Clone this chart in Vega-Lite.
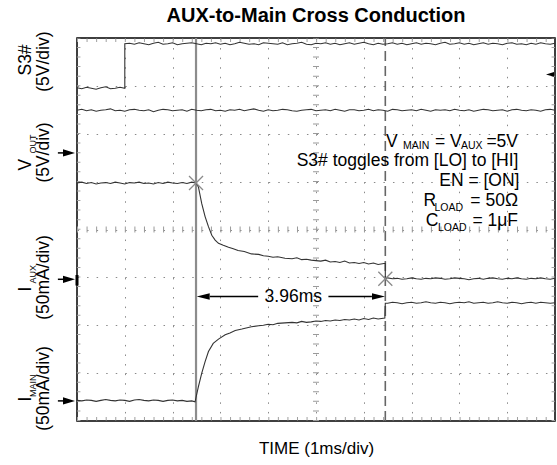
{
"$schema": "https://vega.github.io/schema/vega-lite/v6.json",
"width": 478,
"height": 383,
"autosize": {"type": "none"},
"padding": {"left": 77, "top": 38, "right": 2, "bottom": 44},
"background": "#ffffff",
"title": {"text": "AUX-to-Main Cross Conduction", "font": "Liberation Sans", "fontSize": 20, "fontWeight": "bold", "color": "#000", "anchor": "middle", "frame": "group", "offset": 6},
"config": {"view": {"stroke": "#000", "strokeWidth": 1.5}, "font": "Liberation Sans"},
"datasets": {
"tr": [
{"s":"S","x":0,"y":6.96},{"s":"S","x":0.1,"y":6.94},{"s":"S","x":0.2,"y":6.97},{"s":"S","x":0.3,"y":6.95},{"s":"S","x":0.4,"y":6.93},{"s":"S","x":0.5,"y":6.96},{"s":"S","x":0.6,"y":6.98},{"s":"S","x":0.7,"y":6.94},{"s":"S","x":0.8,"y":6.95},{"s":"S","x":0.9,"y":6.97},{"s":"S","x":1.0,"y":6.95},{"s":"S","x":1.0,"y":7.88},
{"s":"S","x":1.1,"y":7.89},{"s":"S","x":1.2,"y":7.87},{"s":"S","x":1.3,"y":7.9},{"s":"S","x":1.4,"y":7.88},{"s":"S","x":1.5,"y":7.86},{"s":"S","x":1.6,"y":7.89},{"s":"S","x":1.7,"y":7.91},{"s":"S","x":1.8,"y":7.87},{"s":"S","x":1.9,"y":7.88},{"s":"S","x":2.0,"y":7.9},
{"s":"S","x":2.1,"y":7.86},{"s":"S","x":2.2,"y":7.88},{"s":"S","x":2.3,"y":7.89},{"s":"S","x":2.4,"y":7.9},{"s":"S","x":2.5,"y":7.88},{"s":"S","x":2.6,"y":7.86},{"s":"S","x":2.7,"y":7.89},{"s":"S","x":2.8,"y":7.88},{"s":"S","x":2.9,"y":7.9},{"s":"S","x":3.0,"y":7.87},
{"s":"S","x":3.1,"y":7.89},{"s":"S","x":3.2,"y":7.86},{"s":"S","x":3.3,"y":7.88},{"s":"S","x":3.4,"y":7.91},{"s":"S","x":3.5,"y":7.89},{"s":"S","x":3.6,"y":7.87},{"s":"S","x":3.7,"y":7.88},{"s":"S","x":3.8,"y":7.86},{"s":"S","x":3.9,"y":7.9},{"s":"S","x":4.0,"y":7.89},
{"s":"S","x":4.1,"y":7.88},{"s":"S","x":4.2,"y":7.87},{"s":"S","x":4.3,"y":7.9},{"s":"S","x":4.4,"y":7.86},{"s":"S","x":4.5,"y":7.88},{"s":"S","x":4.6,"y":7.89},{"s":"S","x":4.7,"y":7.91},{"s":"S","x":4.8,"y":7.87},{"s":"S","x":4.9,"y":7.86},{"s":"S","x":5.0,"y":7.89},
{"s":"S","x":5.1,"y":7.88},{"s":"S","x":5.2,"y":7.9},{"s":"S","x":5.3,"y":7.87},{"s":"S","x":5.4,"y":7.89},{"s":"S","x":5.5,"y":7.86},{"s":"S","x":5.6,"y":7.88},{"s":"S","x":5.7,"y":7.9},{"s":"S","x":5.8,"y":7.87},{"s":"S","x":5.9,"y":7.89},{"s":"S","x":6.0,"y":7.91},
{"s":"S","x":6.1,"y":7.88},{"s":"S","x":6.2,"y":7.86},{"s":"S","x":6.3,"y":7.89},{"s":"S","x":6.4,"y":7.87},{"s":"S","x":6.5,"y":7.88},{"s":"S","x":6.6,"y":7.9},{"s":"S","x":6.7,"y":7.87},{"s":"S","x":6.8,"y":7.89},{"s":"S","x":6.9,"y":7.86},{"s":"S","x":7.0,"y":7.88},
{"s":"S","x":7.1,"y":7.9},{"s":"S","x":7.2,"y":7.87},{"s":"S","x":7.3,"y":7.89},{"s":"S","x":7.4,"y":7.88},{"s":"S","x":7.5,"y":7.86},{"s":"S","x":7.6,"y":7.89},{"s":"S","x":7.7,"y":7.91},{"s":"S","x":7.8,"y":7.87},{"s":"S","x":7.9,"y":7.88},{"s":"S","x":8.0,"y":7.9},
{"s":"S","x":8.1,"y":7.87},{"s":"S","x":8.2,"y":7.89},{"s":"S","x":8.3,"y":7.86},{"s":"S","x":8.4,"y":7.88},{"s":"S","x":8.5,"y":7.9},{"s":"S","x":8.6,"y":7.87},{"s":"S","x":8.7,"y":7.89},{"s":"S","x":8.8,"y":7.88},{"s":"S","x":8.9,"y":7.86},{"s":"S","x":9.0,"y":7.89},
{"s":"S","x":9.1,"y":7.9},{"s":"S","x":9.2,"y":7.87},{"s":"S","x":9.3,"y":7.88},{"s":"S","x":9.4,"y":7.86},{"s":"S","x":9.5,"y":7.89},{"s":"S","x":9.6,"y":7.87},{"s":"S","x":9.7,"y":7.9},{"s":"S","x":9.8,"y":7.88},{"s":"S","x":9.9,"y":7.87},{"s":"S","x":10,"y":7.89},
{"s":"F","x":0,"y":6.49},{"s":"F","x":0.1,"y":6.51},{"s":"F","x":0.2,"y":6.48},{"s":"F","x":0.3,"y":6.5},{"s":"F","x":0.4,"y":6.47},{"s":"F","x":0.5,"y":6.49},{"s":"F","x":0.6,"y":6.5},{"s":"F","x":0.7,"y":6.52},{"s":"F","x":0.8,"y":6.48},{"s":"F","x":0.9,"y":6.49},
{"s":"F","x":1.0,"y":6.47},{"s":"F","x":1.1,"y":6.5},{"s":"F","x":1.2,"y":6.51},{"s":"F","x":1.3,"y":6.49},{"s":"F","x":1.4,"y":6.48},{"s":"F","x":1.5,"y":6.5},{"s":"F","x":1.6,"y":6.46},{"s":"F","x":1.7,"y":6.49},{"s":"F","x":1.8,"y":6.51},{"s":"F","x":1.9,"y":6.5},
{"s":"F","x":2.0,"y":6.48},{"s":"F","x":2.1,"y":6.49},{"s":"F","x":2.2,"y":6.5},{"s":"F","x":2.3,"y":6.47},{"s":"F","x":2.4,"y":6.51},{"s":"F","x":2.5,"y":6.49},{"s":"F","x":2.6,"y":6.48},{"s":"F","x":2.7,"y":6.5},{"s":"F","x":2.8,"y":6.51},{"s":"F","x":2.9,"y":6.48},
{"s":"F","x":3.0,"y":6.49},{"s":"F","x":3.1,"y":6.47},{"s":"F","x":3.2,"y":6.5},{"s":"F","x":3.3,"y":6.49},{"s":"F","x":3.4,"y":6.51},{"s":"F","x":3.5,"y":6.48},{"s":"F","x":3.6,"y":6.5},{"s":"F","x":3.7,"y":6.52},{"s":"F","x":3.8,"y":6.49},{"s":"F","x":3.9,"y":6.47},
{"s":"F","x":4.0,"y":6.5},{"s":"F","x":4.1,"y":6.48},{"s":"F","x":4.2,"y":6.49},{"s":"F","x":4.3,"y":6.51},{"s":"F","x":4.4,"y":6.5},{"s":"F","x":4.5,"y":6.48},{"s":"F","x":4.6,"y":6.47},{"s":"F","x":4.7,"y":6.49},{"s":"F","x":4.8,"y":6.5},{"s":"F","x":4.9,"y":6.51},
{"s":"F","x":5.0,"y":6.48},{"s":"F","x":5.1,"y":6.49},{"s":"F","x":5.2,"y":6.5},{"s":"F","x":5.3,"y":6.48},{"s":"F","x":5.4,"y":6.51},{"s":"F","x":5.5,"y":6.49},{"s":"F","x":5.6,"y":6.47},{"s":"F","x":5.7,"y":6.5},{"s":"F","x":5.8,"y":6.5},{"s":"F","x":5.9,"y":6.48},
{"s":"F","x":6.0,"y":6.49},{"s":"F","x":6.1,"y":6.51},{"s":"F","x":6.2,"y":6.48},{"s":"F","x":6.3,"y":6.5},{"s":"F","x":6.4,"y":6.49},{"s":"F","x":6.5,"y":6.47},{"s":"F","x":6.6,"y":6.51},{"s":"F","x":6.7,"y":6.5},{"s":"F","x":6.8,"y":6.48},{"s":"F","x":6.9,"y":6.49},
{"s":"F","x":7.0,"y":6.5},{"s":"F","x":7.1,"y":6.48},{"s":"F","x":7.2,"y":6.51},{"s":"F","x":7.3,"y":6.49},{"s":"F","x":7.4,"y":6.47},{"s":"F","x":7.5,"y":6.5},{"s":"F","x":7.6,"y":6.49},{"s":"F","x":7.7,"y":6.5},{"s":"F","x":7.8,"y":6.48},{"s":"F","x":7.9,"y":6.51},
{"s":"F","x":8.0,"y":6.49},{"s":"F","x":8.1,"y":6.48},{"s":"F","x":8.2,"y":6.5},{"s":"F","x":8.3,"y":6.47},{"s":"F","x":8.4,"y":6.49},{"s":"F","x":8.5,"y":6.51},{"s":"F","x":8.6,"y":6.5},{"s":"F","x":8.7,"y":6.48},{"s":"F","x":8.8,"y":6.49},{"s":"F","x":8.9,"y":6.5},
{"s":"F","x":9.0,"y":6.47},{"s":"F","x":9.1,"y":6.5},{"s":"F","x":9.2,"y":6.51},{"s":"F","x":9.3,"y":6.49},{"s":"F","x":9.4,"y":6.48},{"s":"F","x":9.5,"y":6.5},{"s":"F","x":9.6,"y":6.49},{"s":"F","x":9.7,"y":6.47},{"s":"F","x":9.8,"y":6.5},{"s":"F","x":9.9,"y":6.51},{"s":"F","x":10,"y":6.49},
{"s":"A","x":0,"y":4.97},{"s":"A","x":0.1,"y":4.99},{"s":"A","x":0.2,"y":4.96},{"s":"A","x":0.3,"y":4.98},{"s":"A","x":0.4,"y":4.95},{"s":"A","x":0.5,"y":4.97},{"s":"A","x":0.6,"y":4.98},{"s":"A","x":0.7,"y":4.96},{"s":"A","x":0.8,"y":4.99},{"s":"A","x":0.9,"y":4.97},
{"s":"A","x":1.0,"y":4.95},{"s":"A","x":1.1,"y":4.98},{"s":"A","x":1.2,"y":4.97},{"s":"A","x":1.3,"y":4.99},{"s":"A","x":1.4,"y":4.96},{"s":"A","x":1.5,"y":4.97},{"s":"A","x":1.6,"y":4.95},{"s":"A","x":1.7,"y":4.98},{"s":"A","x":1.8,"y":4.96},{"s":"A","x":1.9,"y":4.99},
{"s":"A","x":2.0,"y":4.97},{"s":"A","x":2.1,"y":4.96},{"s":"A","x":2.2,"y":4.98},{"s":"A","x":2.3,"y":4.96},{"s":"A","x":2.4,"y":4.99},{"s":"A","x":2.49,"y":4.97},
{"s":"A","x":2.54,"y":4.89},{"s":"A","x":2.61,"y":4.54},{"s":"A","x":2.68,"y":4.27},{"s":"A","x":2.75,"y":4.06},{"s":"A","x":2.82,"y":3.88},{"s":"A","x":2.89,"y":3.78},{"s":"A","x":2.96,"y":3.71},{"s":"A","x":3.06,"y":3.67},{"s":"A","x":3.17,"y":3.63},{"s":"A","x":3.27,"y":3.6},{"s":"A","x":3.37,"y":3.56},{"s":"A","x":3.5,"y":3.54},{"s":"A","x":3.65,"y":3.49},{"s":"A","x":3.8,"y":3.48},{"s":"A","x":3.9,"y":3.45},{"s":"A","x":4.0,"y":3.44},{"s":"A","x":4.1,"y":3.42},{"s":"A","x":4.2,"y":3.43},{"s":"A","x":4.35,"y":3.4},
{"s":"A","x":4.5,"y":3.39},{"s":"A","x":4.6,"y":3.41},{"s":"A","x":4.7,"y":3.37},{"s":"A","x":4.8,"y":3.38},{"s":"A","x":4.9,"y":3.36},{"s":"A","x":5.0,"y":3.35},{"s":"A","x":5.1,"y":3.34},{"s":"A","x":5.2,"y":3.36},{"s":"A","x":5.3,"y":3.32},{"s":"A","x":5.4,"y":3.33},{"s":"A","x":5.5,"y":3.31},{"s":"A","x":5.6,"y":3.34},{"s":"A","x":5.7,"y":3.3},{"s":"A","x":5.8,"y":3.31},{"s":"A","x":5.9,"y":3.29},{"s":"A","x":6.0,"y":3.31},{"s":"A","x":6.1,"y":3.28},{"s":"A","x":6.2,"y":3.3},{"s":"A","x":6.3,"y":3.27},{"s":"A","x":6.42,"y":3.29},{"s":"A","x":6.45,"y":3.29},{"s":"A","x":6.45,"y":2.97},
{"s":"A","x":6.5,"y":2.99},{"s":"A","x":6.6,"y":2.97},{"s":"A","x":6.7,"y":2.98},{"s":"A","x":6.8,"y":2.96},{"s":"A","x":6.9,"y":2.97},{"s":"A","x":7.0,"y":2.99},{"s":"A","x":7.1,"y":2.97},{"s":"A","x":7.2,"y":2.96},{"s":"A","x":7.3,"y":2.98},{"s":"A","x":7.4,"y":2.97},
{"s":"A","x":7.5,"y":2.99},{"s":"A","x":7.6,"y":2.98},{"s":"A","x":7.7,"y":2.96},{"s":"A","x":7.8,"y":2.97},{"s":"A","x":7.9,"y":2.99},{"s":"A","x":8.0,"y":2.98},{"s":"A","x":8.1,"y":2.97},{"s":"A","x":8.2,"y":2.95},{"s":"A","x":8.3,"y":2.97},{"s":"A","x":8.4,"y":2.98},
{"s":"A","x":8.5,"y":2.96},{"s":"A","x":8.6,"y":2.98},{"s":"A","x":8.7,"y":2.99},{"s":"A","x":8.8,"y":2.97},{"s":"A","x":8.9,"y":2.96},{"s":"A","x":9.0,"y":2.98},{"s":"A","x":9.1,"y":2.97},{"s":"A","x":9.2,"y":2.99},{"s":"A","x":9.3,"y":2.97},{"s":"A","x":9.4,"y":2.96},
{"s":"A","x":9.5,"y":2.98},{"s":"A","x":9.6,"y":2.97},{"s":"A","x":9.7,"y":2.99},{"s":"A","x":9.8,"y":2.97},{"s":"A","x":9.9,"y":2.96},{"s":"A","x":10,"y":2.98},
{"s":"M","x":0,"y":0.43},{"s":"M","x":0.1,"y":0.42},{"s":"M","x":0.2,"y":0.44},{"s":"M","x":0.3,"y":0.43},{"s":"M","x":0.4,"y":0.41},{"s":"M","x":0.5,"y":0.43},{"s":"M","x":0.6,"y":0.45},{"s":"M","x":0.7,"y":0.43},{"s":"M","x":0.8,"y":0.42},{"s":"M","x":0.9,"y":0.44},
{"s":"M","x":1.0,"y":0.43},{"s":"M","x":1.1,"y":0.41},{"s":"M","x":1.2,"y":0.44},{"s":"M","x":1.3,"y":0.45},{"s":"M","x":1.4,"y":0.43},{"s":"M","x":1.5,"y":0.42},{"s":"M","x":1.6,"y":0.44},{"s":"M","x":1.7,"y":0.43},{"s":"M","x":1.8,"y":0.41},{"s":"M","x":1.9,"y":0.43},
{"s":"M","x":2.0,"y":0.44},{"s":"M","x":2.1,"y":0.42},{"s":"M","x":2.2,"y":0.43},{"s":"M","x":2.3,"y":0.41},{"s":"M","x":2.4,"y":0.42},{"s":"M","x":2.47,"y":0.4},
{"s":"M","x":2.5,"y":0.54},{"s":"M","x":2.54,"y":0.72},{"s":"M","x":2.61,"y":1.0},{"s":"M","x":2.68,"y":1.24},{"s":"M","x":2.75,"y":1.45},{"s":"M","x":2.85,"y":1.62},{"s":"M","x":2.96,"y":1.71},{"s":"M","x":3.1,"y":1.8},{"s":"M","x":3.2,"y":1.84},{"s":"M","x":3.31,"y":1.89},{"s":"M","x":3.45,"y":1.92},{"s":"M","x":3.65,"y":1.97},{"s":"M","x":3.8,"y":1.99},{"s":"M","x":3.9,"y":2.0},{"s":"M","x":4.0,"y":2.02},{"s":"M","x":4.1,"y":2.01},{"s":"M","x":4.2,"y":2.04},{"s":"M","x":4.35,"y":2.05},
{"s":"M","x":4.5,"y":2.06},{"s":"M","x":4.6,"y":2.05},{"s":"M","x":4.7,"y":2.08},{"s":"M","x":4.8,"y":2.06},{"s":"M","x":4.9,"y":2.07},{"s":"M","x":5.0,"y":2.09},{"s":"M","x":5.1,"y":2.08},{"s":"M","x":5.2,"y":2.1},{"s":"M","x":5.3,"y":2.09},{"s":"M","x":5.4,"y":2.11},{"s":"M","x":5.5,"y":2.1},{"s":"M","x":5.6,"y":2.12},{"s":"M","x":5.7,"y":2.11},{"s":"M","x":5.8,"y":2.13},{"s":"M","x":5.9,"y":2.11},{"s":"M","x":6.0,"y":2.14},{"s":"M","x":6.1,"y":2.12},{"s":"M","x":6.2,"y":2.15},{"s":"M","x":6.3,"y":2.13},{"s":"M","x":6.44,"y":2.15},{"s":"M","x":6.45,"y":2.46},
{"s":"M","x":6.5,"y":2.46},{"s":"M","x":6.6,"y":2.48},{"s":"M","x":6.7,"y":2.47},{"s":"M","x":6.8,"y":2.45},{"s":"M","x":6.9,"y":2.47},{"s":"M","x":7.0,"y":2.48},{"s":"M","x":7.1,"y":2.46},{"s":"M","x":7.2,"y":2.47},{"s":"M","x":7.3,"y":2.49},{"s":"M","x":7.4,"y":2.47},
{"s":"M","x":7.5,"y":2.46},{"s":"M","x":7.6,"y":2.48},{"s":"M","x":7.7,"y":2.47},{"s":"M","x":7.8,"y":2.45},{"s":"M","x":7.9,"y":2.47},{"s":"M","x":8.0,"y":2.48},{"s":"M","x":8.1,"y":2.47},{"s":"M","x":8.2,"y":2.49},{"s":"M","x":8.3,"y":2.46},{"s":"M","x":8.4,"y":2.47},
{"s":"M","x":8.5,"y":2.48},{"s":"M","x":8.6,"y":2.46},{"s":"M","x":8.7,"y":2.47},{"s":"M","x":8.8,"y":2.49},{"s":"M","x":8.9,"y":2.47},{"s":"M","x":9.0,"y":2.46},{"s":"M","x":9.1,"y":2.48},{"s":"M","x":9.2,"y":2.47},{"s":"M","x":9.3,"y":2.45},{"s":"M","x":9.4,"y":2.47},
{"s":"M","x":9.5,"y":2.48},{"s":"M","x":9.6,"y":2.46},{"s":"M","x":9.7,"y":2.48},{"s":"M","x":9.8,"y":2.47},{"s":"M","x":9.9,"y":2.46},{"s":"M","x":10,"y":2.47}
],
"ct": [{"x":0,"x2":10,"y":4,"y2":4},{"x":5,"x2":5,"y":0,"y2":8}],
"edge": [{"x":0.035,"x2":0.035,"y":0,"y2":8},{"x":9.965,"x2":9.965,"y":0,"y2":8},{"x":0,"x2":10,"y":0.045,"y2":0.045},{"x":0,"x2":10,"y":7.955,"y2":7.955}],
"cur1": [{"x":2.49,"x2":2.49,"y":0,"y2":8}],
"cur2": [{"x":6.45,"x2":6.45,"y":0,"y2":8}],
"shaft": [{"x":2.78,"x2":3.79,"y":2.6,"y2":2.6},{"x":5.26,"x2":6.17,"y":2.6,"y2":2.6},{"x":-0.4,"x2":-0.25,"y":5.6,"y2":5.6},{"x":-0.4,"x2":-0.25,"y":2.96,"y2":2.96},{"x":-0.4,"x2":-0.25,"y":0.42,"y2":0.42}],
"lmark": [{"x":0,"x2":0,"y":2.83,"y2":3.05}],
"xm": [{"x":2.49,"y":4.97},{"x":6.45,"y":2.97}],
"gnd": [{"x":-0.167,"y":5.6},{"x":-0.167,"y":2.96},{"x":-0.167,"y":0.42}],
"headR": [{"x":6.307,"y":2.6}],
"headL": [{"x":2.64,"y":2.6}],
"trig": [{"x":9.895,"y":7.24}],
"tL": [{"t":"V","x":6.464,"y":5.724},{"t":"= V","x":7.49,"y":5.724},{"t":"R","x":7.251,"y":4.481},{"t":"C","x":7.297,"y":4.063}],
"tR": [{"t":"=5V","x":9.226,"y":5.724},{"t":"S3# toggles from [LO] to [HI]","x":9.236,"y":5.327},{"t":"EN = [ON]","x":9.257,"y":4.899},{"t":"= 50Ω","x":9.226,"y":4.481},{"t":"= 1μF","x":9.226,"y":4.063}],
"tS": [{"t":"MAIN","x":6.82,"y":5.682},{"t":"AUX","x":8.033,"y":5.682},{"t":"LOAD","x":7.479,"y":4.376},{"t":"LOAD","x":7.552,"y":3.959}],
"tM": [{"t":"3.96ms","x":4.525,"y":2.6}],
"rC": [{"t":"S3#","x":-0.962,"y":7.541},{"t":"(5V/div)","x":-0.586,"y":7.506},{"t":"(5V/div)","x":-0.586,"y":5.609},{"t":"(50mA/div)","x":-0.586,"y":2.998},{"t":"(50mA/div)","x":-0.586,"y":0.679}],
"rL": [{"t":"V","x":-0.962,"y":5.233},{"t":"I","x":-0.962,"y":2.705},{"t":"I","x":-0.962,"y":0.407}],
"rS": [{"t":"OUT","x":-0.858,"y":5.588},{"t":"AUX","x":-0.858,"y":2.872},{"t":"MAIN","x":-0.858,"y":0.5}]
},
"encoding": {
 "x": {"field":"x","type":"quantitative","scale":{"domain":[0,10],"nice":false,"zero":false},
  "axis":{"values":[1,2,3,4,5,6,7,8,9],"grid":true,"gridColor":"#8a8a8a","gridDash":[1.5,8.075],"gridWidth":1,"domain":false,"ticks":false,"labels":false,"title":"TIME (1ms/div)","titleFont":"Liberation Sans","titleFontSize":17,"titleFontWeight":"normal","titleColor":"#000","titlePadding":19}},
 "y": {"field":"y","type":"quantitative","scale":{"domain":[0,8],"nice":false,"zero":false},
  "axis":{"values":[1,2,3,4,5,6,7],"grid":true,"gridColor":"#8a8a8a","gridDash":[1.5,8.06],"gridWidth":1,"domain":false,"ticks":false,"labels":false,"title":null}}
},
"layer": [
{"data":{"name":"ct"},"mark":{"type":"rule","color":"#9a9a9a","strokeWidth":6,"strokeDash":[1,8.565]},
 "encoding":{"x2":{"field":"x2"},"y2":{"field":"y2"}}},
{"data":{"name":"edge"},"mark":{"type":"rule","color":"#a0a0a0","strokeWidth":3.5,"strokeDash":[1,8.565]},
 "encoding":{"x2":{"field":"x2"},"y2":{"field":"y2"}}},
{"data":{"name":"cur1"},"mark":{"type":"rule","color":"#8c8c8c","strokeWidth":2.2},
 "encoding":{"x2":{"field":"x2"},"y2":{"field":"y2"}}},
{"data":{"name":"cur2"},"mark":{"type":"rule","color":"#666666","strokeWidth":1.6,"strokeDash":[10,5]},
 "encoding":{"x2":{"field":"x2"},"y2":{"field":"y2"}}},
{"data":{"name":"tr"},"mark":{"type":"line","color":"#333333","strokeWidth":1.1},
 "encoding":{"detail":{"field":"s"},"order":{"value":null}}},
{"data":{"name":"xm"},"mark":{"type":"point","shape":"M-1,-1L1,1M-1,1L1,-1","filled":false,"color":"#8a8a8a","strokeWidth":1.3,"size":196,"opacity":1}},
{"data":{"name":"shaft"},"mark":{"type":"rule","color":"#000","strokeWidth":1.5},
 "encoding":{"x2":{"field":"x2"},"y2":{"field":"y2"}}},
{"data":{"name":"lmark"},"mark":{"type":"rule","color":"#000","strokeWidth":3},
 "encoding":{"x2":{"field":"x2"},"y2":{"field":"y2"}}},
{"data":{"name":"gnd"},"mark":{"type":"point","shape":"M-1,-0.6L1,0L-1,0.6Z","filled":true,"color":"#000","size":144,"opacity":1}},
{"data":{"name":"headR"},"mark":{"type":"point","shape":"M1,0L-1,-0.5L-1,0.5Z","filled":true,"color":"#000","size":169,"opacity":1}},
{"data":{"name":"headL"},"mark":{"type":"point","shape":"M-1,0L1,-0.5L1,0.5Z","filled":true,"color":"#000","size":169,"opacity":1}},
{"data":{"name":"trig"},"mark":{"type":"point","shape":"M-1,0L1,-0.6L1,0.6Z","filled":true,"color":"#000","size":64,"opacity":1}},
{"data":{"name":"tL"},"mark":{"type":"text","font":"Liberation Sans","fontSize":17.5,"align":"left","baseline":"alphabetic","color":"#000"},
 "encoding":{"text":{"field":"t"}}},
{"data":{"name":"tR"},"mark":{"type":"text","font":"Liberation Sans","fontSize":17.5,"align":"right","baseline":"alphabetic","color":"#000"},
 "encoding":{"text":{"field":"t"}}},
{"data":{"name":"tS"},"mark":{"type":"text","font":"Liberation Sans","fontSize":10.5,"align":"left","baseline":"alphabetic","color":"#000"},
 "encoding":{"text":{"field":"t"}}},
{"data":{"name":"tM"},"mark":{"type":"text","font":"Liberation Sans","fontSize":17.5,"align":"center","baseline":"middle","color":"#000"},
 "encoding":{"text":{"field":"t"}}},
{"data":{"name":"rC"},"mark":{"type":"text","font":"Liberation Sans","fontSize":17.5,"angle":270,"align":"center","baseline":"alphabetic","color":"#000"},
 "encoding":{"text":{"field":"t"}}},
{"data":{"name":"rL"},"mark":{"type":"text","font":"Liberation Sans","fontSize":17.5,"angle":270,"align":"left","baseline":"alphabetic","color":"#000"},
 "encoding":{"text":{"field":"t"}}},
{"data":{"name":"rS"},"mark":{"type":"text","font":"Liberation Sans","fontSize":9,"angle":270,"align":"left","baseline":"alphabetic","color":"#000"},
 "encoding":{"text":{"field":"t"}}}
]
}
